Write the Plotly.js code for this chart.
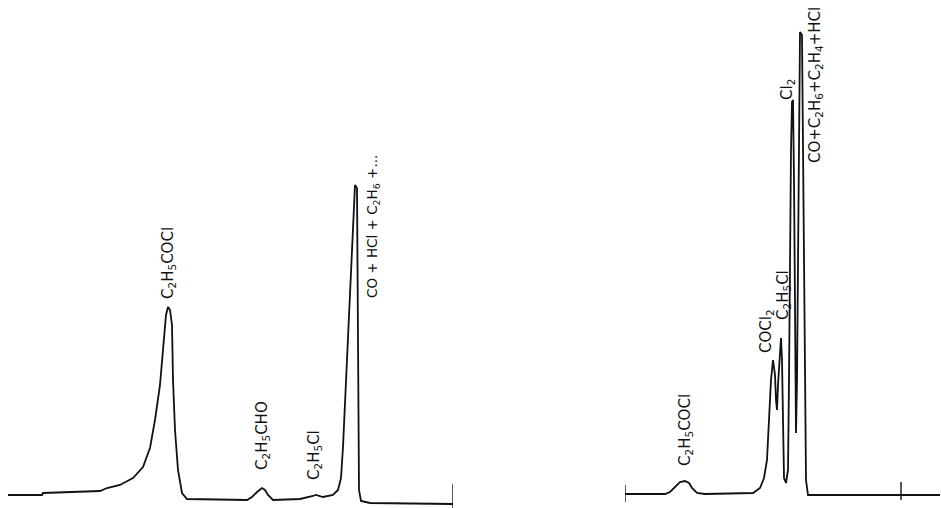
<!DOCTYPE html>
<html>
<head>
<meta charset="utf-8">
<script src="https://cdn.plot.ly/plotly-3.0.1.min.js"></script>
<style>html,body{margin:0;padding:0;background:#fff;}#chart{width:941px;height:508px;}</style>
</head>
<body>
<div id="chart"></div>
<script>
// Left chromatogram (retention time, detector signal)
const leftTime = [0,3.4,3.5,9.2,9.9,11.2,12.5,13.5,14.2,14.7,15.2,15.6,15.8,16.0,16.2,16.4,16.5,16.7,17.0,17.4,17.9,23.9,24.4,24.9,25.4,25.7,26.0,26.5,29.2,30.5,30.8,31.5,32.5,33.0,33.3,33.5,33.8,34.1,34.4,34.7,34.9,35.0,35.05,35.1,35.3,36.2,44.5];
const leftSignal = [5,5,7,9,12,15,22,33,52,80,115,160,185,193,190,175,120,70,30,7,1,0,3,8,12,10,5,0,1,4,5,3,5,10,22,53,120,190,250,315,312,200,80,10,-1,-3,-4];
// Right chromatogram
const rightTime = [0,4.0,4.5,5.0,5.5,6.0,6.4,6.7,7.2,8.0,12.8,13.5,13.9,14.2,14.4,14.6,14.8,15.0,15.1,15.2,15.3,15.5,15.6,15.7,15.8,15.9,16.1,16.3,16.4,16.5,16.6,16.7,16.8,16.9,17.0,17.1,17.2,17.3,17.4,17.5,17.7,17.8,17.9,18.0,18.1,18.3,18.7,31.5];
const rightSignal = [6,6,8,13,18,19,17,12,7,6,7,12,22,40,80,120,140,125,100,90,115,155,162,140,60,22,17,30,120,250,350,398,400,320,170,67,120,250,400,468,465,350,200,70,20,5,5,5];
// End markers on the baselines
const leftMarkT = [44.5,44.5];
const leftMarkS = [16,-8];
const rightStartT = [0,0];
const rightStartS = [15,-2];
const rightMarkT = [27.6,27.6];
const rightMarkS = [18,0];
// Peak labels
const leftLabels = ["C<sub>2</sub>H<sub>5</sub>COCl","C<sub>2</sub>H<sub>5</sub>CHO","C<sub>2</sub>H<sub>5</sub>Cl","CO + HCl + C<sub>2</sub>H<sub>6</sub> +..."];
const leftLabelT = [16.0,25.4,30.6,36.5];
const leftLabelS = [237,64,45,273];
const leftLabelSize = [15,15,15,13.5];
const rightLabels = ["C<sub>2</sub>H<sub>5</sub>COCl","COCl<sub>2</sub>","C<sub>2</sub>H<sub>5</sub>Cl","Cl<sub>2</sub>","CO+C<sub>2</sub>H<sub>6</sub>+C<sub>2</sub>H<sub>4</sub>+HCl"];
const rightLabelT = [6.0,14.1,15.8,16.2,19.0];
const rightLabelS = [70,169,205,410,415];

const ink = '#111';
const lineStyle = {color: ink, width: 1.8, shape: 'linear'};
const traces = [
  {x: leftTime, y: leftSignal, xaxis: 'x', yaxis: 'y', mode: 'lines', line: lineStyle, hoverinfo: 'skip'},
  {x: leftMarkT, y: leftMarkS, xaxis: 'x', yaxis: 'y', mode: 'lines', line: {color: ink, width: 1.4}, hoverinfo: 'skip'},
  {x: rightTime, y: rightSignal, xaxis: 'x2', yaxis: 'y', mode: 'lines', line: lineStyle, hoverinfo: 'skip'},
  {x: rightStartT, y: rightStartS, xaxis: 'x2', yaxis: 'y', mode: 'lines', line: {color: ink, width: 1.4}, hoverinfo: 'skip'},
  {x: rightMarkT, y: rightMarkS, xaxis: 'x2', yaxis: 'y', mode: 'lines', line: {color: ink, width: 1.4}, hoverinfo: 'skip'}
];
const fam = 'DejaVu Sans, Arial, sans-serif';
const annotations = [];
leftLabels.forEach((t, i) => annotations.push({text: t, x: leftLabelT[i], y: leftLabelS[i], xref: 'x', yref: 'y', textangle: -90, showarrow: false, font: {family: fam, size: leftLabelSize[i], color: ink}, xanchor: 'center', yanchor: 'middle'}));
rightLabels.forEach((t, i) => annotations.push({text: t, x: rightLabelT[i], y: rightLabelS[i], xref: 'x2', yref: 'y', textangle: -90, showarrow: false, font: {family: fam, size: 15, color: ink}, xanchor: 'center', yanchor: 'middle'}));

const hidden = {showgrid: false, zeroline: false, showline: false, showticklabels: false, ticks: '', fixedrange: true};
const layout = {
  width: 941, height: 508,
  margin: {l: 0, r: 0, t: 0, b: 0},
  paper_bgcolor: '#fff', plot_bgcolor: '#fff',
  showlegend: false,
  xaxis: Object.assign({domain: [8/941, 453/941], range: [0, 44.5]}, hidden),
  xaxis2: Object.assign({domain: [625/941, 940/941], range: [0, 31.5]}, hidden),
  yaxis: Object.assign({domain: [0, 1], range: [-8, 500]}, hidden),
  annotations: annotations
};
Plotly.newPlot('chart', traces, layout, {staticPlot: true, displayModeBar: false});
</script>
</body>
</html>
